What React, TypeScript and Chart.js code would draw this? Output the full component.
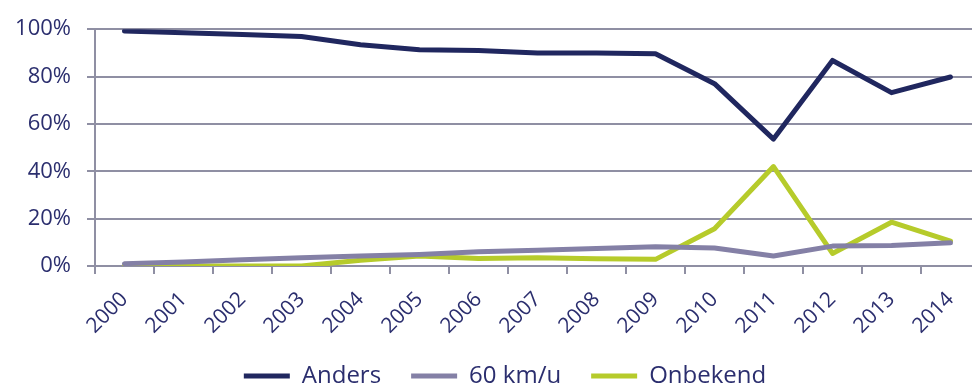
import React, { useEffect, useRef } from "react";
import { Chart, registerables } from "chart.js";

Chart.register(...registerables);

const years = ["2000","2001","2002","2003","2004","2005","2006","2007","2008","2009","2010","2011","2012","2013","2014"];
const anders = [99.2, 98.5, 97.8, 96.9, 93.4, 91.3, 91.0, 90.0, 89.9, 89.6, 77.0, 53.6, 86.8, 73.2, 79.8];
const km60 = [1.0, 1.7, 2.6, 3.5, 4.2, 4.9, 6.0, 6.7, 7.4, 8.1, 7.6, 4.2, 8.4, 8.7, 9.8];
const onbekend = [0, 0, 0, 0, 2.4, 4.2, 3.2, 3.5, 3.1, 2.8, 15.7, 42.0, 5.3, 18.5, 10.5];
const yTicks = [0, 20, 40, 60, 80, 100];

const TEXT = "#2b2e6e";
const GRID = "#8f8fa3";
const FONT = "'Open Sans', sans-serif";

const legendShift = {
  id: "legendShift",
  afterLayout(chart: any) {
    const lg = chart.legend;
    if (!lg) return;
    const dx = 15;
    const dy = -7;
    lg.left += dx;
    lg.right += dx;
    lg.top += dy;
    lg.bottom += dy;
  },
};

export default function App() {
  const ref = useRef<HTMLCanvasElement | null>(null);
  useEffect(() => {
    const canvas = ref.current!;
    const chart = new Chart(canvas, {
      type: "line",
      plugins: [legendShift],
      data: {
        labels: years,
        datasets: [
          { label: "Anders", data: anders, borderColor: "#20275f", backgroundColor: "#20275f" },
          { label: "60 km/u", data: km60, borderColor: "#8480a6", backgroundColor: "#8480a6" },
          { label: "Onbekend", data: onbekend, borderColor: "#b6cb2b", backgroundColor: "#b6cb2b" },
        ].map((d) => ({
          ...d,
          borderWidth: 5,
          pointRadius: 0,
          tension: 0,
          borderCapStyle: "round" as const,
          borderJoinStyle: "round" as const,
        })),
      },
      options: {
        responsive: false,
        animation: false,
        layout: { padding: { left: 0, right: 10, top: 27, bottom: -18 } },
        plugins: {
          tooltip: { enabled: false },
          legend: {
            position: "bottom",
            labels: {
              color: TEXT,
              font: { family: FONT, size: 24 },
              boxWidth: 46,
              boxHeight: 5,
              padding: 30,
              generateLabels: (c: any) =>
                c.data.datasets.map((ds: any, i: number) => ({
                  text: ds.label,
                  fillStyle: ds.borderColor,
                  strokeStyle: ds.borderColor,
                  lineWidth: 0,
                  fontColor: TEXT,
                  datasetIndex: i,
                  hidden: false,
                })),
            },
          },
        },
        scales: {
          x: {
            offset: true,
            grid: {
              offset: true,
              drawOnChartArea: false,
              drawTicks: true,
              tickLength: 8,
              color: GRID,
              lineWidth: 2,
            },
            border: { display: false },
            ticks: {
              color: TEXT,
              font: { family: FONT, size: 21 },
              minRotation: 45,
              maxRotation: 45,
              autoSkip: false,
              padding: 13,
            },
            afterFit: (s: any) => {
              s.height = 75;
            },
          },
          y: {
            min: 0,
            max: 100,
            afterBuildTicks: (s: any) => {
              s.ticks = yTicks.map((v) => ({ value: v }));
            },
            grid: { color: GRID, lineWidth: 2, tickLength: 8 },
            border: { display: true, color: GRID, width: 2 },
            ticks: {
              color: TEXT,
              font: { family: FONT, size: 22 },
              padding: 16,
              callback: (v: any) => `${v}%`,
            },
            afterFit: (s: any) => {
              s.width = 95;
            },
          },
        },
      },
    });
    return () => chart.destroy();
  }, []);
  return (
    <div style={{ position: "fixed", left: 0, top: 0, width: 972, height: 387, overflow: "hidden", background: "#fff" }}>
      <canvas ref={ref} width={990} height={387} style={{ display: "block", width: 990, height: 387 }} />
    </div>
  );
}
